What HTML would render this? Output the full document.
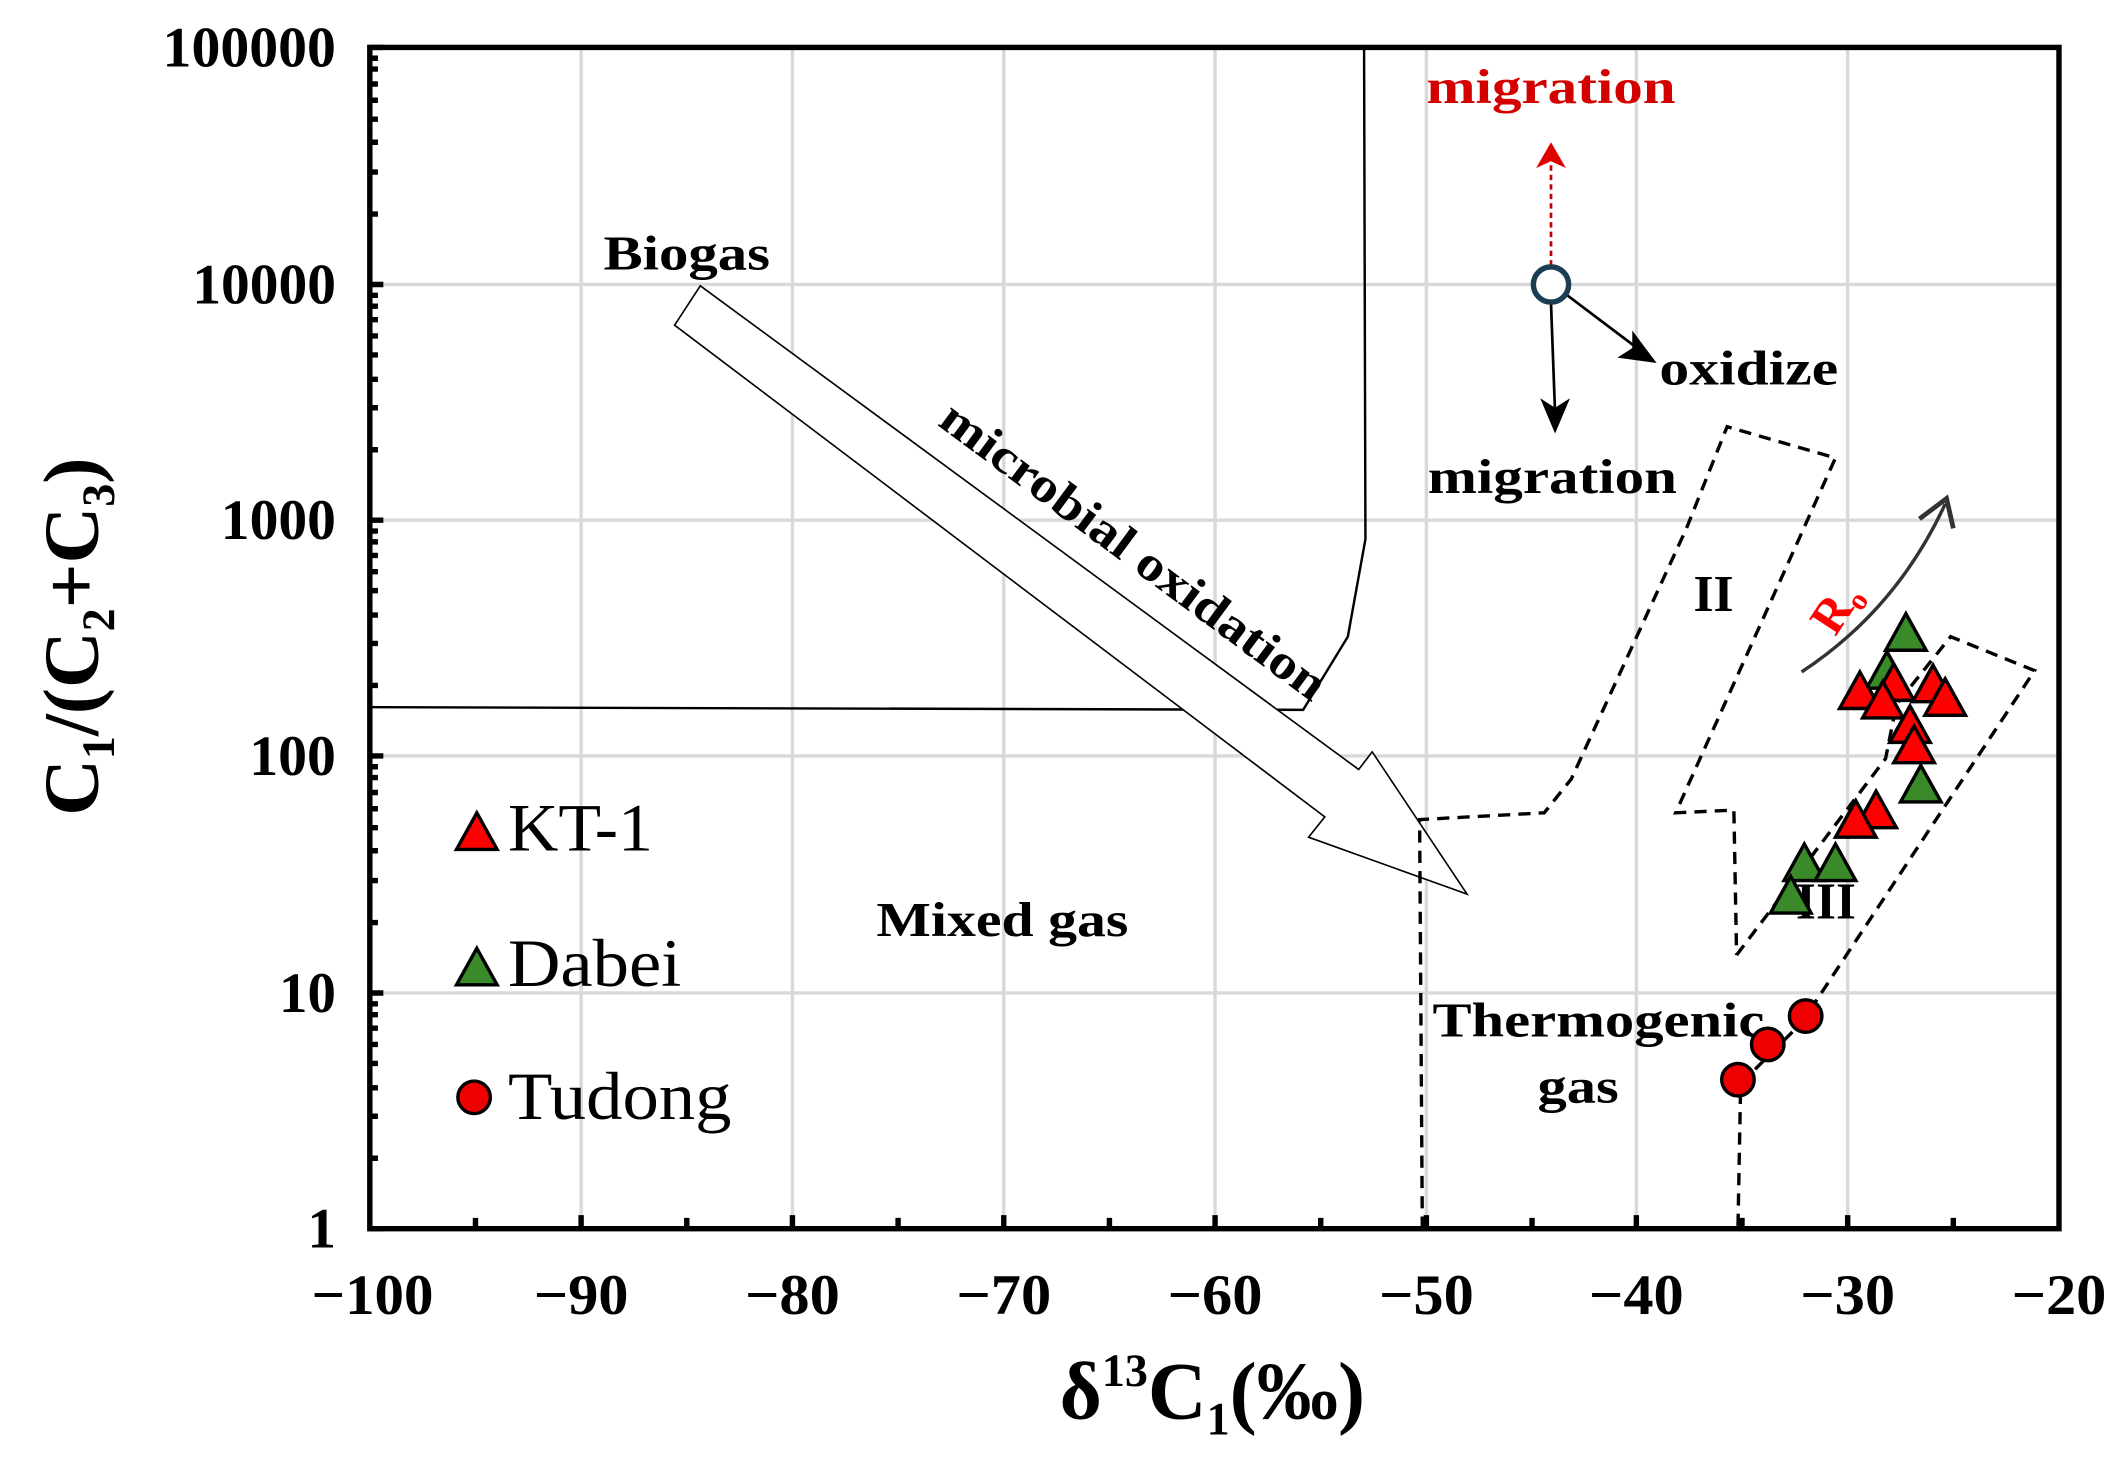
<!DOCTYPE html>
<html><head><meta charset="utf-8"><style>
html,body{margin:0;padding:0;background:#fff;}
svg{display:block;}
text{font-family:"Liberation Serif",serif;font-weight:bold;}
</style></head><body>
<svg width="2124" height="1459" viewBox="0 0 1568 1077" preserveAspectRatio="none" xmlns="http://www.w3.org/2000/svg">
<rect width="1568" height="1077" fill="#fff"/>
<g stroke="#d9d9d9" stroke-width="2.5">
<line x1="429" y1="35" x2="429" y2="907"/><line x1="585" y1="35" x2="585" y2="907"/>
<line x1="741" y1="35" x2="741" y2="907"/><line x1="897" y1="35" x2="897" y2="907"/>
<line x1="1053" y1="35" x2="1053" y2="907"/><line x1="1208" y1="35" x2="1208" y2="907"/>
<line x1="1364" y1="35" x2="1364" y2="907"/>
<line x1="273" y1="210" x2="1520" y2="210"/><line x1="273" y1="384" x2="1520" y2="384"/>
<line x1="273" y1="558" x2="1520" y2="558"/><line x1="273" y1="733" x2="1520" y2="733"/>
</g>
<g stroke="#000" stroke-width="4">
<path d="M273 35h10M273 210h10M273 384h10M273 558h10M273 733h10M273 907h10
M273 43h6M273 51h6M273 62h6M273 74h6M273 88h6M273 105h6M273 127h6M273 158h6
M273 218h6M273 226h6M273 236h6M273 248h6M273 262h6M273 280h6M273 301h6M273 332h6
M273 392h6M273 400h6M273 410h6M273 422h6M273 436h6M273 454h6M273 475h6M273 506h6
M273 566h6M273 574h6M273 585h6M273 597h6M273 611h6M273 628h6M273 650h6M273 681h6
M273 741h6M273 749h6M273 759h6M273 771h6M273 785h6M273 803h6M273 824h6M273 855h6"/>
<path d="M351 907v-8M429 907v-10M507 907v-8M585 907v-10M663 907v-8M741 907v-10M819 907v-8M897 907v-10M975 907v-8M1053 907v-10M1131 907v-8M1208 907v-10M1286 907v-8M1364 907v-10M1442 907v-8"/>
</g>
<rect x="273" y="35" width="1247" height="872" fill="none" stroke="#000" stroke-width="4"/>
<g font-size="42" text-anchor="end" lengthAdjust="spacingAndGlyphs">
<text x="248" y="49" textLength="128" lengthAdjust="spacingAndGlyphs">100000</text>
<text x="248" y="224" textLength="106" lengthAdjust="spacingAndGlyphs">10000</text>
<text x="248" y="398" textLength="85" lengthAdjust="spacingAndGlyphs">1000</text>
<text x="248" y="572" textLength="64" lengthAdjust="spacingAndGlyphs">100</text>
<text x="248" y="747" textLength="42" lengthAdjust="spacingAndGlyphs">10</text>
<text x="248" y="921" textLength="21" lengthAdjust="spacingAndGlyphs">1</text>
</g>
<g font-size="42" text-anchor="middle">
<text x="275" y="970" textLength="90" lengthAdjust="spacingAndGlyphs">−100</text>
<text x="429" y="970" textLength="70" lengthAdjust="spacingAndGlyphs">−90</text>
<text x="585" y="970" textLength="70" lengthAdjust="spacingAndGlyphs">−80</text>
<text x="741" y="970" textLength="70" lengthAdjust="spacingAndGlyphs">−70</text>
<text x="897" y="970" textLength="70" lengthAdjust="spacingAndGlyphs">−60</text>
<text x="1053" y="970" textLength="70" lengthAdjust="spacingAndGlyphs">−50</text>
<text x="1208" y="970" textLength="70" lengthAdjust="spacingAndGlyphs">−40</text>
<text x="1364" y="970" textLength="70" lengthAdjust="spacingAndGlyphs">−30</text>
<text x="1520" y="970" textLength="70" lengthAdjust="spacingAndGlyphs">−20</text>
</g>
<text x="895" y="1047" font-size="60" text-anchor="middle">δ<tspan font-size="34" dy="-24">13</tspan><tspan dy="24">C</tspan><tspan font-size="34" dy="12">1</tspan><tspan dy="-12">(‰)</tspan></text>
<text transform="translate(72,470) rotate(-90)" font-size="58" text-anchor="middle">C<tspan font-size="34" dy="12">1</tspan><tspan dy="-12">/(C</tspan><tspan font-size="34" dy="12">2</tspan><tspan dy="-12">+C</tspan><tspan font-size="34" dy="12">3</tspan><tspan dy="-12">)</tspan></text>
<polyline points="1007,35 1008,398 995,470 962,524 273,522" fill="none" stroke="#000" stroke-width="1.8"/>
<polygon points="517,211 1003,568 1013,555 1083,660 966,618 978,603 498,240" fill="#fff" stroke="#000" stroke-width="1.2"/>
<g fill="none" stroke="#000" stroke-width="2.5" stroke-dasharray="9,6">
<polyline points="1050,907 1048,605 1140,600 1160,575 1245,390 1255,365 1275,315 1355,338 1237,600 1280,598 1282,705"/>
<polyline points="1282,705 1392,560 1400,520 1440,470 1502,495 1330,755 1285,800 1283,907"/>
</g>
<g font-size="36">
<text x="507" y="199" text-anchor="middle" textLength="123" lengthAdjust="spacingAndGlyphs">Biogas</text>
<text transform="translate(830,416) rotate(36.5)" text-anchor="middle" textLength="345" lengthAdjust="spacingAndGlyphs">microbial oxidation</text>
<text x="740" y="691" text-anchor="middle" textLength="186" lengthAdjust="spacingAndGlyphs">Mixed gas</text>
<text x="1180" y="765" text-anchor="middle" textLength="245" lengthAdjust="spacingAndGlyphs">Thermogenic</text>
<text x="1165" y="814" text-anchor="middle" textLength="60" lengthAdjust="spacingAndGlyphs">gas</text>
<text x="1265" y="451" text-anchor="middle" font-size="38">II</text>
<text x="1348" y="678" text-anchor="middle" font-size="38">III</text>
<text x="1145" y="76" text-anchor="middle" fill="#d40000" textLength="184" lengthAdjust="spacingAndGlyphs">migration</text>
<text x="1146" y="364" text-anchor="middle" textLength="184" lengthAdjust="spacingAndGlyphs">migration</text>
<text x="1291" y="284" text-anchor="middle" textLength="132" lengthAdjust="spacingAndGlyphs">oxidize</text>
<text transform="translate(1365,455) rotate(-57)" text-anchor="middle" fill="#ff0000" font-size="36">R<tspan font-size="22" dy="6">o</tspan></text>
</g>
<line x1="1145" y1="196" x2="1145" y2="122" stroke="#c00000" stroke-width="2" stroke-dasharray="4,3"/>
<polygon points="1145,105 1134,124 1145,119 1156,124" fill="#e00000"/>
<line x1="1145" y1="224" x2="1148" y2="305" stroke="#000" stroke-width="2"/>
<polygon points="1148,320 1137,294 1148,301 1159,294" fill="#000"/>
<line x1="1157" y1="218" x2="1210" y2="258" stroke="#000" stroke-width="2"/>
<polygon points="1223,268 1194,264 1205,257 1205,244" fill="#000"/>
<circle cx="1145" cy="210" r="13" fill="#fff" stroke="#1b3d52" stroke-width="4"/>
<path d="M1330,496 Q1400,450 1436,372" fill="none" stroke="#333" stroke-width="2.5"/>
<polyline points="1417,383 1437,368 1442,390" fill="none" stroke="#333" stroke-width="3.5"/>
<g stroke="#000" stroke-width="2.5">
<defs><path id="tri" d="M0,-17 L15,10 L-15,10 Z"/></defs>
<use href="#tri" x="1407" y="470" fill="#3a8a2a"/>
<use href="#tri" x="1393" y="498" fill="#3a8a2a"/>
<use href="#tri" x="1398" y="507" fill="#ff0000"/>
<use href="#tri" x="1373" y="513" fill="#ff0000"/>
<use href="#tri" x="1390" y="520" fill="#ff0000"/>
<use href="#tri" x="1427" y="508" fill="#ff0000"/>
<use href="#tri" x="1436" y="518" fill="#ff0000"/>
<use href="#tri" x="1410" y="538" fill="#ff0000"/>
<use href="#tri" x="1413" y="553" fill="#ff0000"/>
<use href="#tri" x="1418" y="582" fill="#3a8a2a"/>
<use href="#tri" x="1385" y="601" fill="#ff0000"/>
<use href="#tri" x="1370" y="608" fill="#ff0000"/>
<use href="#tri" x="1332" y="640" fill="#3a8a2a"/>
<use href="#tri" x="1355" y="640" fill="#3a8a2a"/>
<use href="#tri" x="1322" y="664" fill="#3a8a2a"/>
<circle cx="1283" cy="797" r="12" fill="#ee0000"/>
<circle cx="1305" cy="771" r="12" fill="#ee0000"/>
<circle cx="1333" cy="750" r="12" fill="#ee0000"/>
<use href="#tri" x="352" y="617" fill="#ff0000"/>
<use href="#tri" x="352" y="717" fill="#3a8a2a"/>
<circle cx="350" cy="810" r="12" fill="#ee0000"/>
</g>
<g font-size="50">
<text x="375" y="628" style="font-weight:normal" textLength="107" lengthAdjust="spacingAndGlyphs">KT-1</text>
<text x="375" y="728" style="font-weight:normal" textLength="128" lengthAdjust="spacingAndGlyphs">Dabei</text>
<text x="375" y="826" style="font-weight:normal" textLength="165" lengthAdjust="spacingAndGlyphs">Tudong</text>
</g>
</svg>
</body></html>
